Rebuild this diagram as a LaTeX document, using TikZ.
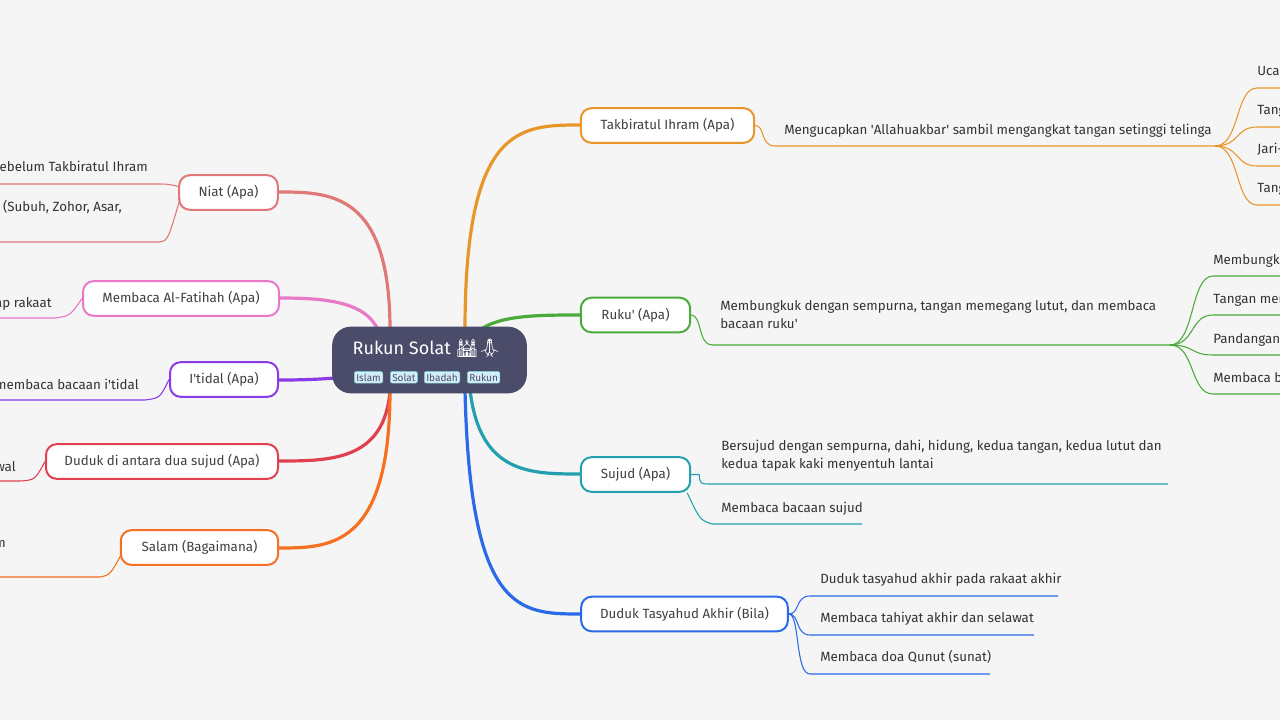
\documentclass[tikz,border=0pt]{standalone}
\usepackage{fontspec}
\setmainfont{Fira Sans}
\newfontfamily\emoji{Noto Emoji}
\newcommand\apos{\textquotesingle}
\definecolor{bg}{HTML}{F5F5F5}
\definecolor{core}{HTML}{4A4C6A}
\definecolor{tagfill}{HTML}{D3EEF7}
\definecolor{cTak}{HTML}{E8962A}
\definecolor{cRuk}{HTML}{4AAA3A}
\definecolor{cSuj}{HTML}{22A0B0}
\definecolor{cTas}{HTML}{2A6AE8}
\definecolor{cNia}{HTML}{E07878}
\definecolor{cFat}{HTML}{E878C8}
\definecolor{cIti}{HTML}{8A3AE8}
\definecolor{cDud}{HTML}{E04050}
\definecolor{cSal}{HTML}{F57020}
\begin{document}
\begin{tikzpicture}[x=0.75pt,y=-0.75pt,
  topic/.style={draw=#1,line width=1.5pt,rounded corners=8pt,fill=white,
    minimum height=26pt,inner xsep=8pt,font=\fontsize{10}{12}\selectfont,text=black!75},
  branch/.style={draw=#1,line width=2.4pt},
  twig/.style={draw=#1,line width=0.8pt},
  leaf/.style={anchor=base west,font=\fontsize{10}{13.5}\selectfont,text=black!80,inner sep=0pt},
  leafl/.style={anchor=base east,font=\fontsize{10}{13.5}\selectfont,text=black!80,inner sep=0pt},
  tag/.style={fill=tagfill,draw=cSuj!60,rounded corners=1.5pt,inner sep=1.5pt,
    font=\fontsize{7.5}{8}\selectfont,text=core}]
\fill[bg] (0,0) rectangle (1280,720);
\useasboundingbox (0,0) rectangle (1280,720);
\clip (0,0) rectangle (1280,720);

% main branches
\draw[branch=cTak] (465,330) .. controls (465,125) and (520,125) .. (581,125);
\draw[branch=cRuk] (480,330) .. controls (500,315) and (540,315) .. (581,315);
\draw[branch=cSuj] (470,390) .. controls (480,474) and (530,474) .. (581,474);
\draw[branch=cTas] (465,390) .. controls (470,614) and (520,614) .. (581,614);
\draw[branch=cNia] (390,330) .. controls (390,192) and (330,192) .. (278,192);
\draw[branch=cFat] (378,330) .. controls (365,300) and (320,298) .. (278,298);
\draw[branch=cIti] (335,378) .. controls (310,380) and (290,380) .. (278,380);
\draw[branch=cDud] (390,390) .. controls (385,461) and (330,461) .. (278,461);
\draw[branch=cSal] (390,390) .. controls (390,548) and (330,548) .. (278,548);

% central topic
\node[fill=core,rounded corners=14pt,minimum width=146pt,minimum height=50pt] (root) at (429.5,360) {};
\node[text=white,font=\fontsize{13.5}{15}\selectfont,anchor=base] (title) at (427,354)
  {Rukun Solat {\emoji 🕌🙏}};
\node[tag,anchor=base west] (t1) at (354,381) {Islam};
\node[tag,anchor=base west] (t2) at (390,381) {Solat};
\node[tag,anchor=base west] (t3) at (424,381) {Ibadah};
\node[tag,anchor=base west] (t4) at (467,381) {Rukun};

% right topics
\node[topic=cTak,minimum width=130pt] (tak) at (667.5,125.5) {Takbiratul Ihram (Apa)};
\node[topic=cRuk,minimum width=82pt] (ruk) at (635.5,315) {Ruku\apos{} (Apa)};
\node[topic=cSuj,minimum width=82pt] (suj) at (635.5,474.5) {Sujud (Apa)};
\node[topic=cTas,minimum width=155pt] (tas) at (684.5,614) {Duduk Tasyahud Akhir (Bila)};

% left topics
\node[topic=cNia,minimum width=74pt] (nia) at (228.5,192.5) {Niat (Apa)};
\node[topic=cFat,minimum width=147pt] (fat) at (181,298.5) {Membaca Al-Fatihah (Apa)};
\node[topic=cIti,minimum width=81pt] (iti) at (224,379.5) {I\apos{}tidal (Apa)};
\node[topic=cDud,minimum width=174pt] (dud) at (162,461.5) {Duduk di antara dua sujud (Apa)};
\node[topic=cSal,minimum width=118pt] (sal) at (199.5,547.5) {Salam (Bagaimana)};

% Takbiratul Ihram
\node[leaf] (tak1) at (784,135) {Mengucapkan \apos{}Allahuakbar\apos{} sambil mengangkat tangan setinggi telinga};
\coordinate (takf) at (1215,146);
\draw[twig=cTak] (tak.east) .. controls (765,125) and (760,146) .. (775,146) -- (takf);
\foreach \y/\t in {88/Ucapkan \apos{}Allahuakbar\apos{} dengan jelas,127/Tangan diangkat setentang bahu,
  166/Jari-jari tangan dirapatkan,205/Tangan diletakkan di atas perut}{
  \node[leaf] at (1257,\y-12) {\t};
  \draw[twig=cTak] (takf) .. controls (1240,146) and (1235,\y) .. (1257,\y) -- (1290,\y);
}

% Ruku'
\node[leaf,align=left,anchor=north west] (ruk1) at (720,300)
  {Membungkuk dengan sempurna, tangan memegang lutut, dan membaca\\bacaan ruku\apos};
\coordinate (rukf) at (1170,345);
\draw[twig=cRuk] (ruk.east) .. controls (702,315) and (698,345) .. (712,345) -- (rukf);
\foreach \y/\t in {276/Membungkuk hingga belakang rata,315/Tangan memegang lutut,
  355/Pandangan ke tempat sujud,394/Membaca bacaan ruku\apos}{
  \node[leaf] at (1213,\y-12) {\t};
  \draw[twig=cRuk] (rukf) .. controls (1195,345) and (1190,\y) .. (1213,\y) -- (1290,\y);
}

% Sujud
\node[leaf,align=left,anchor=north west] (suj1) at (721,440)
  {Bersujud dengan sempurna, dahi, hidung, kedua tangan, kedua lutut dan\\kedua tapak kaki menyentuh lantai};
\draw[twig=cSuj] (suj.east) -- ++(8,0) .. controls (700,484) .. (712,484) -- (1168,484);
\node[leaf] (suj2) at (721,512) {Membaca bacaan sujud};
\draw[twig=cSuj] (suj.south east) ++(-4,0) .. controls (700,520) .. (712,524) -- (862,524);

% Duduk Tasyahud Akhir
\foreach \y/\e/\t in {596/1058/Duduk tasyahud akhir pada rakaat akhir,
  635/1034/Membaca tahiyat akhir dan selawat,674/990/Membaca doa Qunut (sunat)}{
  \node[leaf] at (820,\y-13) {\t};
  \draw[twig=cTas] (tas.east) .. controls (800,614) and (795,\y) .. (810,\y) -- (\e,\y);
}

% Niat
\node[leafl] (nia1) at (148,172) {Berniat di dalam hati sebelum Takbiratul Ihram};
\draw[twig=cNia] (nia.west) ++(0,-6) .. controls (168,184) .. (155,184) -- (-10,184);
\node[leafl] (nia2) at (122,212) {Menentukan solat yang dikerjakan (Subuh, Zohor, Asar,};
\draw[twig=cNia] (nia.west) ++(2,6) .. controls (168,240) .. (160,242) -- (-10,242);

% Al-Fatihah
\node[leafl] (fat1) at (52,307) {Membaca surah Al-Fatihah pada setiap rakaat};
\draw[twig=cFat] (fat.west) .. controls (70,316) .. (55,318) -- (-10,318);

% I'tidal
\node[leafl] (iti1) at (139,389) {Bangun dari ruku\apos{} dan membaca bacaan i\apos{}tidal};
\draw[twig=cIti] (iti.west) .. controls (160,398) .. (145,400) -- (-10,400);

% Duduk di antara dua sujud
\node[leafl] (dud1) at (16,471) {Duduk iftirasy seperti tahiyat awal};
\draw[twig=cDud] (dud.west) .. controls (35,480) .. (20,481) -- (-10,481);

% Salam
\node[leafl] (sal1) at (6,547) {Menoleh ke kanan dan ke kiri sambil memberi salam};
\draw[twig=cSal] (sal.west) ++(2,6) .. controls (110,575) .. (100,577) -- (-10,577);
\end{tikzpicture}
\end{document}
